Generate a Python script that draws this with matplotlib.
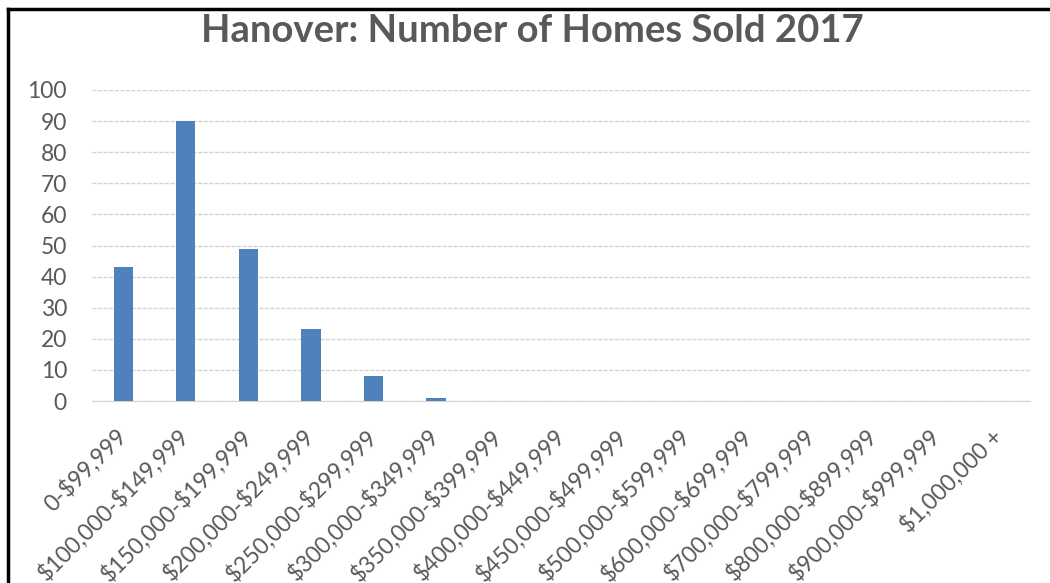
import matplotlib
matplotlib.use("Agg")
import matplotlib.pyplot as plt
from matplotlib.lines import Line2D

# ---------------------------------------------------------------------------
# Data
# ---------------------------------------------------------------------------
PRICE_BANDS = [
    "0-$99,999", "$100,000-$149,999", "$150,000-$199,999", "$200,000-$249,999",
    "$250,000-$299,999", "$300,000-$349,999", "$350,000-$399,999",
    "$400,000-$449,999", "$450,000-$499,999", "$500,000-$599,999",
    "$600,000-$699,999", "$700,000-$799,999", "$800,000-$899,999",
    "$900,000-$999,999", "$1,000,000 +",
]
HOMES_SOLD = [43, 90, 49, 23, 8, 1, 0, 0, 0, 0, 0, 0, 0, 0, 0]
Y_TICKS = list(range(0, 101, 10))

TITLE = "Hanover: Number of Homes Sold 2017"
BAR_COLOR = "#4F81BD"
TEXT_COLOR = "#595959"
GRID_COLOR = "#D4D4D4"

plt.rcParams["font.family"] = ["Lato", "DejaVu Sans"]

fig = plt.figure(figsize=(10.5, 5.83), dpi=100)
ax = fig.add_axes([92 / 1050, 1 - 401 / 583, (1030 - 92) / 1050, (401 - 90) / 583])

x = list(range(len(PRICE_BANDS)))
ax.bar(x, HOMES_SOLD, width=0.31, color=BAR_COLOR, zorder=3)

ax.set_xlim(-0.5, len(PRICE_BANDS) - 0.5)
ax.set_ylim(0, 100)
ax.set_yticks(Y_TICKS)
ax.set_yticklabels([str(t) for t in Y_TICKS], fontsize=16.5, color=TEXT_COLOR)
ax.tick_params(axis="y", length=0, pad=18)

ax.set_xticks(x)
ax.set_xticklabels([b.replace("$", r"\$") for b in PRICE_BANDS],
                   rotation=45, ha="right", va="center", rotation_mode="anchor",
                   fontsize=16.5, color=TEXT_COLOR)
ax.tick_params(axis="x", length=0, pad=23)

ax.yaxis.grid(True, color=GRID_COLOR, linewidth=1, linestyle=(0, (3, 1)), zorder=0)
ax.xaxis.grid(False)
for side in ("top", "right", "left"):
    ax.spines[side].set_visible(False)
ax.spines["bottom"].set_color(GRID_COLOR)
ax.spines["bottom"].set_linestyle((0, (3, 1)))

fig.text(532 / 1050, 1 - 31 / 583, TITLE, ha="center", va="center",
         fontsize=27.5, fontweight="bold", color=TEXT_COLOR)

# black frame on left and top edges (picture is cropped at right/bottom)
fig.add_artist(Line2D([8 / 1050, 8 / 1050], [0, 1 - 9 / 583],
                      color="black", linewidth=2.5, transform=fig.transFigure))
fig.add_artist(Line2D([8 / 1050, 1], [1 - 9 / 583, 1 - 9 / 583],
                      color="black", linewidth=2.5, transform=fig.transFigure))

fig.savefig("out.png", dpi=100)
